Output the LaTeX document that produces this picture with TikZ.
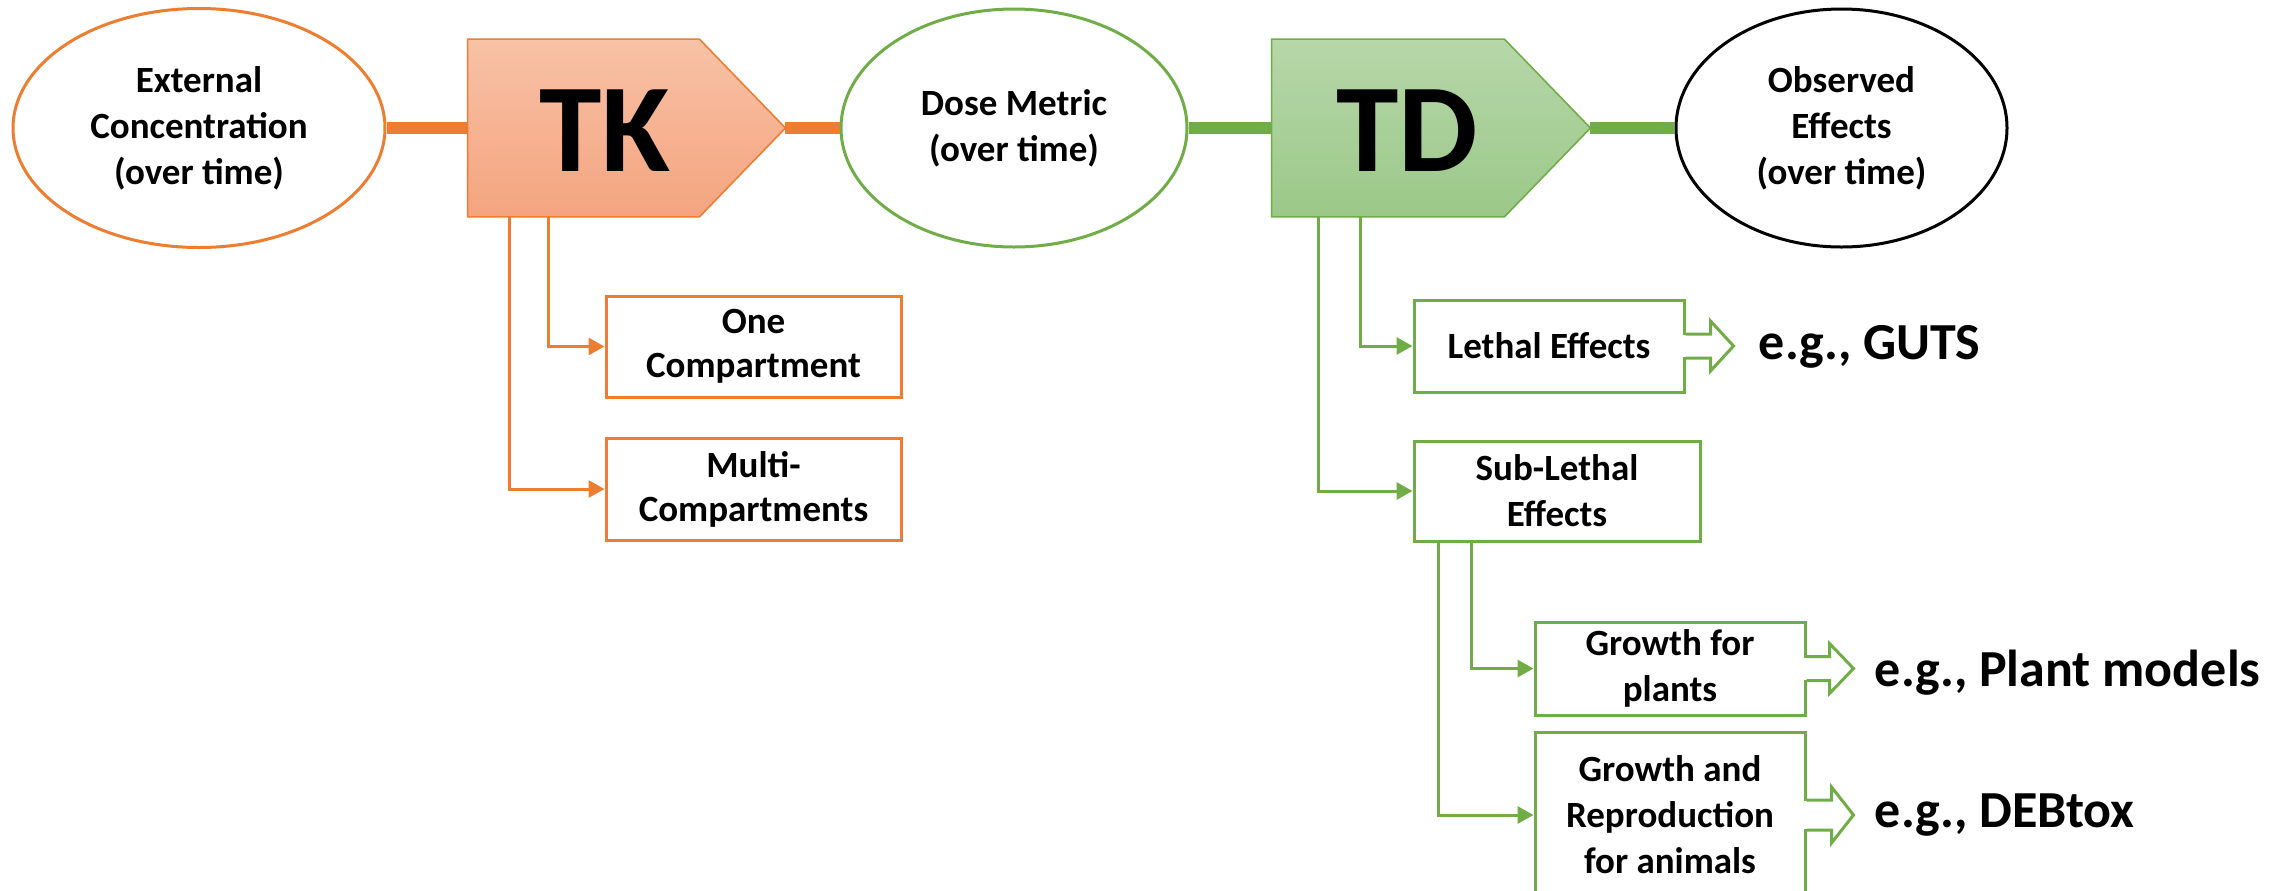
\documentclass[tikz,border=0pt]{standalone}
\usepackage{fontspec}
\setmainfont{Carlito}
\usetikzlibrary{arrows.meta,calc,shapes.geometric,backgrounds}

\definecolor{tkorange}{HTML}{ED7D31}
\definecolor{tdgreen}{HTML}{70AD47}
\definecolor{tktop}{HTML}{F8C2A6}
\definecolor{tkbot}{HTML}{F4A47F}
\definecolor{tdtop}{HTML}{B7D7A9}
\definecolor{tdbot}{HTML}{9BC889}

% hollow block arrow leaving the east side of a box:
% #1 box, #2 shaft half-height, #3 head half-height, #4 shaft length, #5 head length
\newcommand{\hollowarrow}[5]{%
  \fill[white] ($(#1.east)+(-2.5,{-#2+1})$) rectangle ($(#1.east)+(#4,{#2-1})$);
  \draw[hollow] ($(#1.east)+(0,-#2)$) -- ++(#4,0) -- ++(0,{#2-#3})
    -- ++(#5,#3) -- ++(-#5,#3) -- ++(0,{#2-#3}) -- ++(-#4,0);
}

\begin{document}
\begin{tikzpicture}[
  x=0.5pt, y=-0.5pt,
  txt/.style={font=\fontsize{18.5}{23}\selectfont\bfseries},
  oval/.style={ellipse, draw, line width=1.5pt, fill=white, inner sep=0pt,
    align=center, txt},
  body/.style={rectangle, inner sep=0pt, minimum width=#1, minimum height=88.5pt},
  title/.style={inner sep=0pt, font=\fontsize{63}{63}\selectfont\bfseries},
  leaf/.style={rectangle, draw, line width=1.5pt, fill=white, inner sep=0pt,
    align=center, txt},
  link/.style={line width=6pt},
  branch/.style={line width=1.5pt, -{Triangle[length=8pt,width=8.5pt]}},
  hollow/.style={line width=1.5pt, tdgreen, line join=miter},
  example/.style={anchor=west, inner sep=0pt, font=\fontsize{26}{30}\selectfont\bfseries},
]
\useasboundingbox (0,0) rectangle (2293,890);
\clip (0,0) rectangle (2293,890);

% main chain
\node[oval, draw=tkorange, minimum width=186pt, minimum height=119.5pt]
  (ext) at (199,128) {External\\Concentration\\(over time)};
\node[body=115.5pt] (tk) at (583.5,128) {};
\coordinate (tktip) at ($(tk.east)+(86,0)$);
\node[title] (tkname) at ($(tk.center)+(21.5,3)$) {TK};

\node[oval, draw=tdgreen, minimum width=173pt, minimum height=119pt]
  (dose) at (1014,128) {Dose Metric\\(over time)};
\node[body=116pt] (td) at (1388,128) {};
\coordinate (tdtip) at ($(td.east)+(86,0)$);
\node[title] (tdname) at ($(td.center)+(19,3)$) {TD};

\node[oval, draw=black, minimum width=165.5pt, minimum height=119pt]
  (obs) at (1841.5,128) {Observed\\Effects\\(over time)};

\begin{scope}[on background layer]
  \shade[top color=tktop, bottom color=tkbot, draw=tkorange, line width=0.8pt]
    (tk.north west) -- (tk.north east) -- (tktip) -- (tk.south east)
    -- (tk.south west) -- cycle;
  \shade[top color=tdtop, bottom color=tdbot, draw=tdgreen, line width=0.8pt]
    (td.north west) -- (td.north east) -- (tdtip) -- (td.south east)
    -- (td.south west) -- cycle;
\end{scope}

\draw[link, tkorange] (ext.east) -- (tk.west);
\draw[link, tkorange] (tktip) -- (dose.west);
\draw[link, tdgreen] (dose.east) -- (td.west);
\draw[link, tdgreen] (tdtip) -- (obs.west);

% toxicokinetic models
\node[leaf, draw=tkorange, minimum width=147.5pt, minimum height=50.5pt,
  font=\fontsize{18.5}{22}\selectfont\bfseries]
  (one) at (753.5,346.5) {One\\Compartment};
\node[leaf, draw=tkorange, minimum width=147.5pt, minimum height=51pt,
  font=\fontsize{18.5}{22}\selectfont\bfseries]
  (multi) at (753.5,489) {Multi-\\Compartments};
\draw[branch, tkorange] ($(tk.south west)+(81,0)$) |- (one.west);
\draw[branch, tkorange] ($(tk.south west)+(42,0)$) |- (multi.west);

% toxicodynamic models
\node[leaf, draw=tdgreen, minimum width=135pt, minimum height=46pt]
  (lethal) at (1549,346) {Lethal Effects};
\node[leaf, draw=tdgreen, minimum width=143pt, minimum height=50pt]
  (sublethal) at (1557,491) {Sub-Lethal\\Effects};
\node[leaf, draw=tdgreen, minimum width=135pt, minimum height=46.5pt]
  (plants) at (1670,668.5) {Growth for\\plants};
\node[leaf, draw=tdgreen, minimum width=135pt, minimum height=83pt]
  (animals) at (1670,815) {Growth and\\Reproduction\\for animals};

\draw[branch, tdgreen] ($(td.south west)+(89,0)$) |- (lethal.west);
\draw[branch, tdgreen] ($(td.south west)+(47,0)$) |- (sublethal.west);
\draw[branch, tdgreen] ($(sublethal.south west)+(59,0)$) |- (plants.west);
\draw[branch, tdgreen] ($(sublethal.south west)+(26,0)$) |- (animals.west);

% example models
\hollowarrow{lethal}{12}{25}{25}{23}
\hollowarrow{plants}{12}{25}{23}{24}
\hollowarrow{animals}{15}{28}{25}{22}

\node[example] (guts) at ($(lethal.east)+(73,1)$) {e.g., GUTS};
\node[example] (plantmod) at ($(plants.east)+(68,4)$) {e.g., Plant models};
\node[example] (debtox) at ($(animals.east)+(68,0)$) {e.g., DEBtox};
\end{tikzpicture}
\end{document}
